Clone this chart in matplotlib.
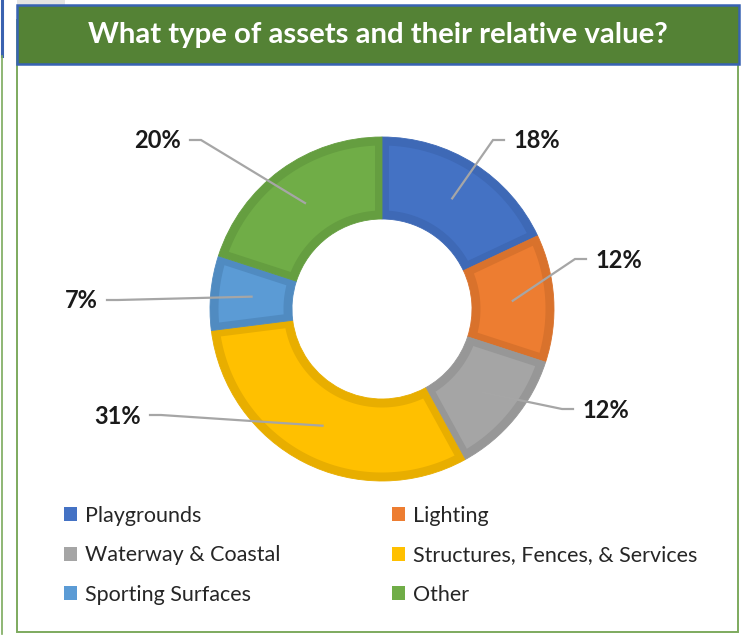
import matplotlib
matplotlib.use("Agg")
import matplotlib.pyplot as plt
from matplotlib.patches import Rectangle, Patch, Polygon
import numpy as np

# ---- data ----
categories = ["Playgrounds", "Lighting", "Waterway & Coastal",
              "Structures, Fences, & Services", "Sporting Surfaces", "Other"]
values = [18, 12, 12, 31, 7, 20]
label_texts = ["18%", "12%", "12%", "31%", "7%", "20%"]
title = "What type of assets and their relative value?"

# ---- style ----
fills = ["#4472C4", "#ED7D31", "#A5A5A5", "#FFC000", "#5B9BD5", "#70AD47"]
edges = ["#3E69B6", "#D9722C", "#979797", "#E8AE00", "#508BC1", "#659E40"]

W, H = 743, 637
fig = plt.figure(figsize=(W / 100, H / 100), dpi=100)
fig.patch.set_facecolor("white")

def fx(x):
    return x / W

def fy(y):
    return 1 - y / H

# background artifacts / frame
bg = fig.add_axes([0, 0, 1, 1])
bg.set_xlim(0, W)
bg.set_ylim(H, 0)
bg.axis("off")
bg.add_patch(Rectangle((17, 0), 48, 5, facecolor="#E4E4E4", edgecolor="none"))
bg.plot([1.5, 1.5], [0, 56], color="#3A62B0", lw=2.2)
bg.plot([1.5, 1.5], [56, 634], color="#7CAA5C", lw=1.2)
# main frame
bg.add_patch(Rectangle((17, 20), 721, 612, facecolor="white",
                       edgecolor="#7DAA5E", lw=1.4))
# title banner
bg.add_patch(Rectangle((17, 5), 722, 58.5, facecolor="#548235",
                       edgecolor="#3863B3", lw=1.8))
bg.text(377.5, 35.5, title, color="white", fontsize=21.2, fontweight="bold",
        family=["Lato", "DejaVu Sans"], ha="center", va="center")

# ---- donut ----
cx, cy, R = 382, 309, 172.0
ax = fig.add_axes([fx(cx - R), fy(cy + R), 2 * R / W, 2 * R / H])
ax.axis("off")

r_out = 1.0
r_in = 90.0 / R
wedges, _ = ax.pie(values, startangle=90, counterclock=False, colors=edges,
                   radius=r_out,
                   wedgeprops=dict(width=r_out - r_in, linewidth=0.6))
for wdg, ec in zip(wedges, edges):
    wdg.set_edgecolor(ec)

# lighter inner part of every slice (border band drawn inside the slice)
b_rad = 8.5 / R
b_side = 7.0 / R

def inset_sector(t1, t2, ro, ri, bs, n=80):
    ao = np.deg2rad(np.linspace(t1, t2, n))
    ro2, ri2 = ro - b_rad, ri + b_rad
    a1o, a2o = np.arcsin(bs / ro2), np.arcsin(bs / ri2)
    outer = np.linspace(np.deg2rad(t1) + a1o, np.deg2rad(t2) - a1o, n)
    inner = np.linspace(np.deg2rad(t2) - a2o, np.deg2rad(t1) + a2o, n)
    xs = np.concatenate([ro2 * np.cos(outer), ri2 * np.cos(inner)])
    ys = np.concatenate([ro2 * np.sin(outer), ri2 * np.sin(inner)])
    return np.column_stack([xs, ys])

for wdg, fc in zip(wedges, fills):
    pts = inset_sector(wdg.theta1, wdg.theta2, r_out, r_in, b_side)
    ax.add_patch(Polygon(pts, closed=True, facecolor=fc, edgecolor="none"))

ax.set_xlim(-1, 1)
ax.set_ylim(-1, 1)
ax.set_aspect("equal")

# label anchors (pixel offsets from centre, y up): text edge nearest the donut
label_anchor_px = [(131, 168), (213, 49), (200, -101), (-241, -107),
                   (-284, 8), (-201, 168)]
gap_px, seg_px = 9, 11
r_mid = (90 + 172) / 2 / R
for wdg, txt, (ox, oy) in zip(wedges, label_texts, label_anchor_px):
    ang = np.deg2rad((wdg.theta1 + wdg.theta2) / 2)
    px, py = r_mid * np.cos(ang), r_mid * np.sin(ang)
    sgn = 1 if ox > 0 else -1
    tx, ty = ox / R, oy / R
    ex = tx - sgn * gap_px / R
    elx = ex - sgn * seg_px / R
    ax.plot([px, elx, ex], [py, ty + 1.0 / R, ty + 1.0 / R], color="#A6A6A6",
            lw=1.6, solid_joinstyle="miter", clip_on=False, zorder=5)
    ax.text(tx, ty, txt, ha="left" if sgn > 0 else "right", va="center",
            fontsize=17, fontweight="bold", color="#1A1A1A",
            family=["Lato", "DejaVu Sans"], clip_on=False)

# ---- legend (row-major order like the reference) ----
order = [0, 2, 4, 1, 3, 5]
handles = [Patch(facecolor=fills[i], edgecolor="none") for i in order]
labels = [categories[i] for i in order]
leg = fig.legend(handles, labels, ncol=2, loc="upper left",
                 bbox_to_anchor=(fx(64), fy(506)), frameon=False,
                 prop=dict(family=["Lato", "DejaVu Sans"], size=15.5),
                 handlelength=0.6, handleheight=0.62, handletextpad=0.36,
                 labelspacing=0.9, columnspacing=5.2, borderpad=0,
                 borderaxespad=0)
for t in leg.get_texts():
    t.set_color("#262626")

fig.savefig("out.png", dpi=100)
